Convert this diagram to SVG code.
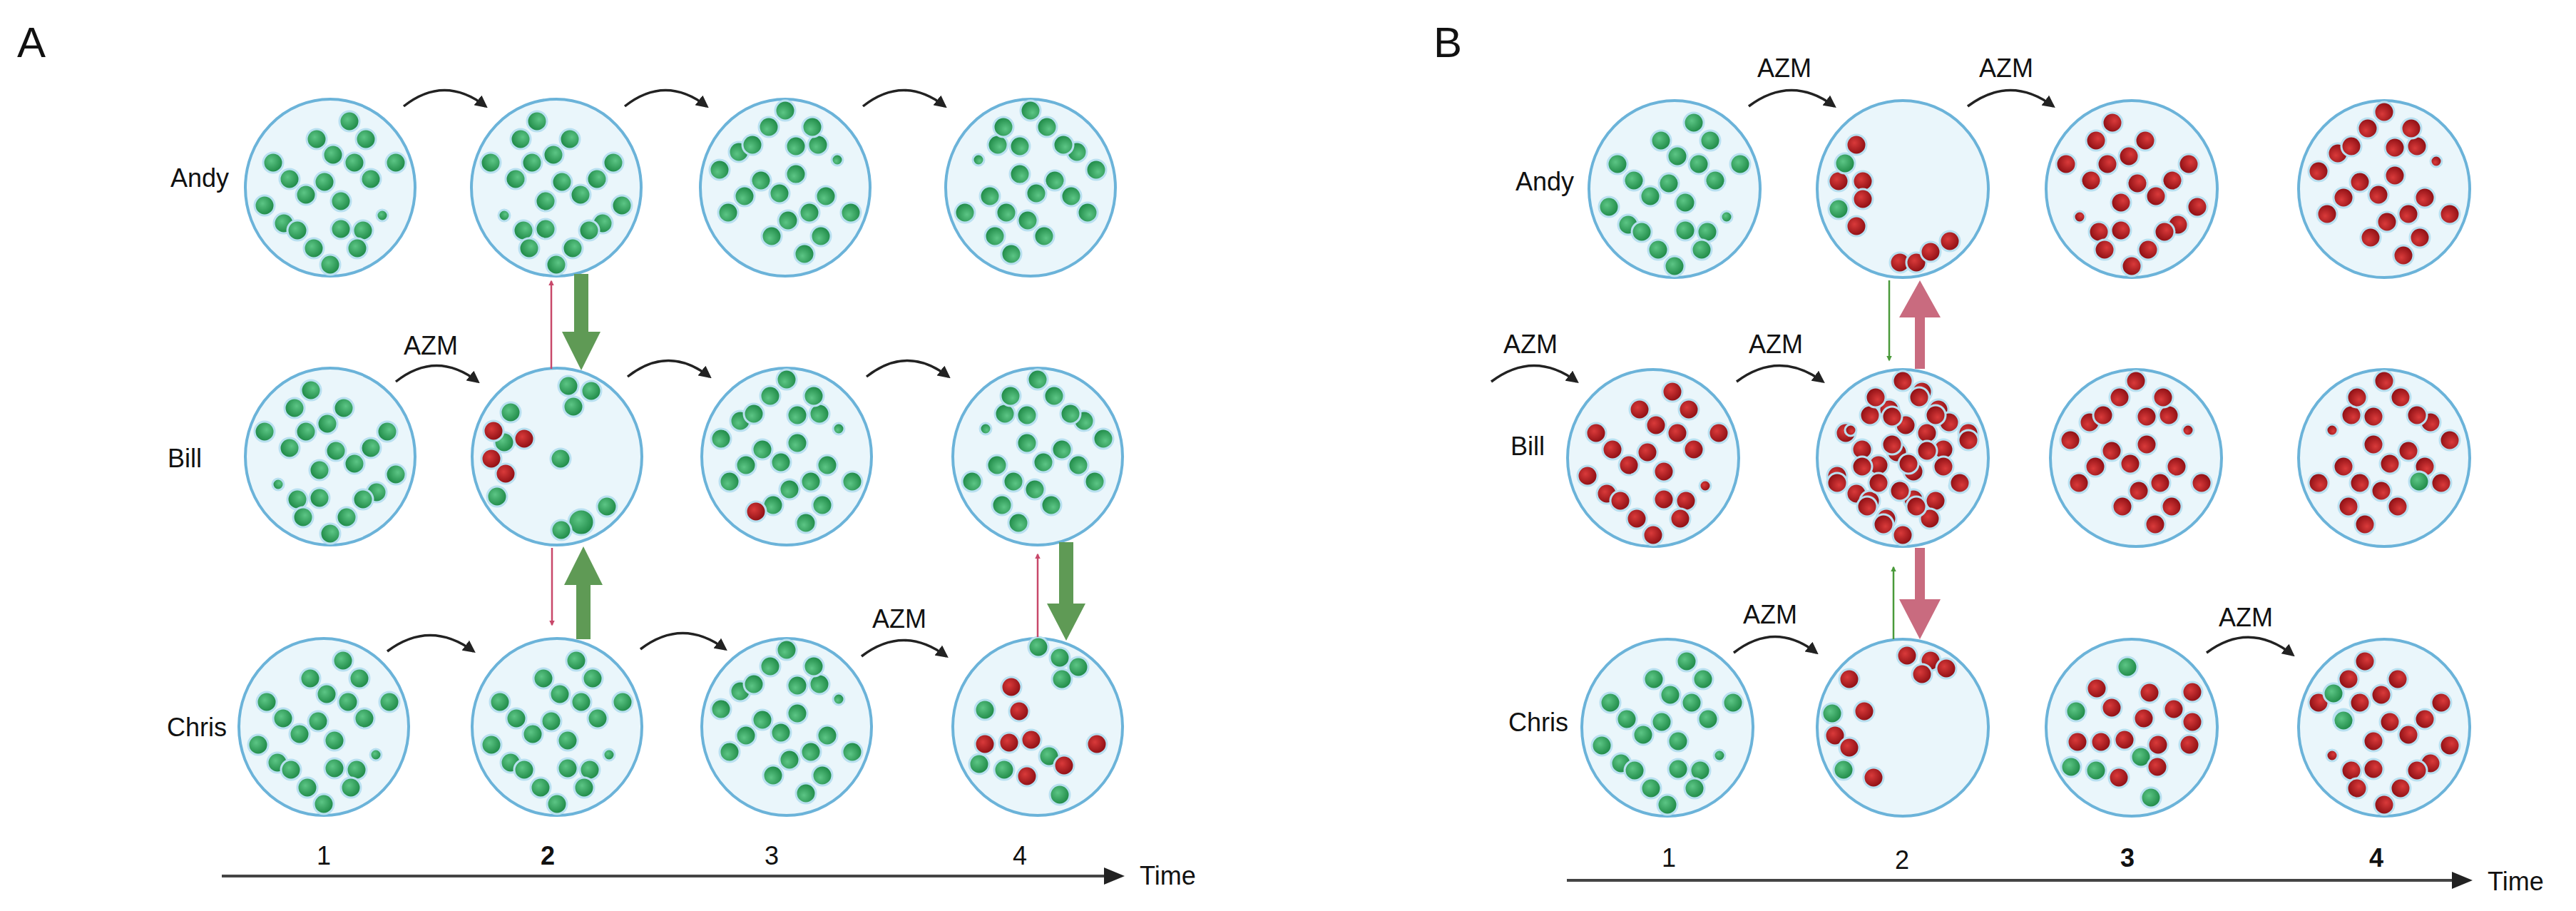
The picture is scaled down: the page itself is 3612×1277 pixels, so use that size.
<svg xmlns="http://www.w3.org/2000/svg" xmlns:xlink="http://www.w3.org/1999/xlink" width="3612" height="1277" viewBox="0 0 3612 1277">
<style>
.dish{fill:#eaf6fb;stroke:#6bb3d9;stroke-width:4}
.t{font-family:"Liberation Sans",Arial,sans-serif;font-size:36px;fill:#111}
.big{font-size:60px}
.cv{fill:none;stroke:#222;stroke-width:3.5;marker-end:url(#ah)}
.d circle{stroke:#b9e0f0;stroke-width:3}
.g{fill:url(#gg)}
.r{fill:url(#rg)}
</style>
<defs>
<radialGradient id="gg" cx="0.4" cy="0.4" r="0.6"><stop offset="0" stop-color="#5cc585"/><stop offset="1" stop-color="#1f8a47"/></radialGradient>
<radialGradient id="rg" cx="0.4" cy="0.4" r="0.6"><stop offset="0" stop-color="#d93a3a"/><stop offset="1" stop-color="#8e0f14"/></radialGradient>
<marker id="ah" viewBox="0 0 10 10" refX="8" refY="5" markerWidth="5" markerHeight="5" orient="auto"><path d="M0,0 L10,5 L0,10 z" fill="#222"/></marker>
<marker id="tr" viewBox="0 0 10 10" refX="8" refY="5" markerWidth="3" markerHeight="3" orient="auto"><path d="M0,0 L10,5 L0,10 z" fill="#c8486a"/></marker>
<marker id="tg" viewBox="0 0 10 10" refX="8" refY="5" markerWidth="3" markerHeight="3" orient="auto"><path d="M0,0 L10,5 L0,10 z" fill="#4a9a3a"/></marker>
<g id="p" class="d">
<circle cx="27" cy="-93" r="14"/><circle cx="-19" cy="-68" r="14"/><circle cx="50" cy="-68" r="14"/><circle cx="-80" cy="-35" r="14"/><circle cx="4" cy="-46" r="14"/><circle cx="34" cy="-35" r="14"/><circle cx="92" cy="-35" r="14"/><circle cx="-57" cy="-12" r="14"/><circle cx="-8" cy="-8" r="14"/><circle cx="57" cy="-12" r="14"/><circle cx="-34" cy="10" r="14"/><circle cx="15" cy="19" r="14"/><circle cx="-92" cy="25" r="14"/><circle cx="73" cy="39" r="8"/><circle cx="-65" cy="50" r="14"/><circle cx="-46" cy="60" r="14"/><circle cx="15" cy="58" r="14"/><circle cx="46" cy="60" r="14"/><circle cx="-23" cy="85" r="14"/><circle cx="38" cy="85" r="14"/><circle cx="0" cy="108" r="14"/>
</g>
</defs>
<rect width="3612" height="1277" fill="#fff"/>
<text class="t big" x="24" y="80">A</text>
<text class="t big" x="2010" y="80">B</text>
<g id="labels">
<text class="t" x="321" y="262" text-anchor="end">Andy</text>
<text class="t" x="283" y="655" text-anchor="end">Bill</text>
<text class="t" x="318" y="1032" text-anchor="end">Chris</text>
<text class="t" x="2207" y="267" text-anchor="end">Andy</text>
<text class="t" x="2166" y="638" text-anchor="end">Bill</text>
<text class="t" x="2199" y="1025" text-anchor="end">Chris</text>
<text class="t" x="566" y="497">AZM</text>
<text class="t" x="1223" y="880">AZM</text>
<text class="t" x="2464" y="108">AZM</text>
<text class="t" x="2775" y="108">AZM</text>
<text class="t" x="2108" y="495">AZM</text>
<text class="t" x="2452" y="495">AZM</text>
<text class="t" x="2444" y="874">AZM</text>
<text class="t" x="3111" y="878">AZM</text>
</g>
<g id="A-andy1"><ellipse class="dish" cx="463" cy="263" rx="119" ry="124"/><use href="#p" x="463" y="263" class="g"/></g>
<g id="A-andy2"><ellipse class="dish" cx="780" cy="263" rx="119" ry="124"/><use href="#p" transform="translate(780,263) scale(-1,1)" class="g"/></g>
<g id="A-andy3"><ellipse class="dish" cx="1101" cy="263" rx="119" ry="124"/><use href="#p" transform="translate(1101,263) scale(1,-1)" class="g"/></g>
<g id="A-andy4"><ellipse class="dish" cx="1445" cy="263" rx="119" ry="124"/><use href="#p" transform="translate(1445,263) scale(-1,-1)" class="g"/></g>
<g id="A-bill1"><ellipse class="dish" cx="463" cy="640" rx="119" ry="124"/><use href="#p" transform="translate(463,640) scale(-1,1)" class="g"/></g>
<g id="A-bill2"><ellipse class="dish" cx="781" cy="640" rx="119" ry="124"/>
<g class="d" transform="translate(781,640)">
<circle class="g" cx="16" cy="-99" r="14"/><circle class="g" cx="48" cy="-92" r="14"/><circle class="g" cx="23" cy="-70" r="14"/><circle class="g" cx="-65" cy="-62" r="14"/><circle class="g" cx="-74" cy="-20" r="14"/><circle class="g" cx="5" cy="3" r="14"/><circle class="g" cx="-84" cy="56" r="14"/><circle class="g" cx="70" cy="70" r="14"/><circle class="g" cx="34" cy="92" r="18"/><circle class="g" cx="6" cy="103" r="14"/>
<circle class="r" cx="-89" cy="-36" r="14"/><circle class="r" cx="-46" cy="-25" r="14"/><circle class="r" cx="-92" cy="3" r="14"/><circle class="r" cx="-72" cy="24" r="14"/>
</g></g>
<g id="A-bill3"><ellipse class="dish" cx="1103" cy="640" rx="119" ry="124"/><use href="#p" transform="translate(1103,640) scale(1,-1)" class="g"/><circle class="r" cx="1060" cy="717" r="14" stroke="#b9e0f0" stroke-width="3"/></g>
<g id="A-bill4"><ellipse class="dish" cx="1455" cy="640" rx="119" ry="124"/><use href="#p" transform="translate(1455,640) scale(-1,-1)" class="g"/></g>
<g id="A-chris1"><ellipse class="dish" cx="454" cy="1019" rx="119" ry="124"/><use href="#p" x="454" y="1019" class="g"/></g>
<g id="A-chris2"><ellipse class="dish" cx="781" cy="1019" rx="119" ry="124"/><use href="#p" x="781" y="1019" class="g"/></g>
<g id="A-chris3"><ellipse class="dish" cx="1103" cy="1019" rx="119" ry="124"/><use href="#p" transform="translate(1103,1019) scale(1,-1)" class="g"/></g>
<g id="A-chris4"><ellipse class="dish" cx="1455" cy="1019" rx="119" ry="124"/>
<g class="d" transform="translate(1455,1019)">
<circle class="g" cx="1" cy="-112" r="14"/><circle class="g" cx="31" cy="-97" r="14"/><circle class="g" cx="57" cy="-84" r="14"/><circle class="g" cx="34" cy="-67" r="14"/><circle class="g" cx="-74" cy="-24" r="14"/><circle class="g" cx="16" cy="41" r="14"/><circle class="g" cx="-82" cy="52" r="14"/><circle class="g" cx="-47" cy="60" r="14"/><circle class="g" cx="31" cy="95" r="14"/>
<circle class="r" cx="-37" cy="-56" r="14"/><circle class="r" cx="-26" cy="-22" r="14"/><circle class="r" cx="-74" cy="24" r="14"/><circle class="r" cx="-40" cy="22" r="14"/><circle class="r" cx="-9" cy="18" r="14"/><circle class="r" cx="83" cy="24" r="14"/><circle class="r" cx="37" cy="54" r="14"/><circle class="r" cx="-15" cy="69" r="14"/>
</g></g>
<g id="B-andy1"><ellipse class="dish" cx="2348" cy="265" rx="120" ry="124"/><use href="#p" x="2348" y="265" class="g"/></g>
<g id="B-andy2"><ellipse class="dish" cx="2668" cy="265" rx="120" ry="124"/>
<g class="d" transform="translate(2668,265)">
<circle class="r" cx="-65" cy="-62" r="14"/><circle class="r" cx="-90" cy="-11" r="14"/><circle class="r" cx="-56" cy="-11" r="14"/><circle class="r" cx="-56" cy="14" r="14"/><circle class="r" cx="-65" cy="52" r="14"/><circle class="r" cx="-4" cy="103" r="14"/><circle class="r" cx="19" cy="103" r="14"/><circle class="r" cx="39" cy="88" r="14"/><circle class="r" cx="66" cy="73" r="14"/>
<circle class="g" cx="-81" cy="-36" r="14"/><circle class="g" cx="-90" cy="28" r="14"/>
</g></g>
<g id="B-andy3"><ellipse class="dish" cx="2989" cy="265" rx="120" ry="124"/><use href="#p" transform="translate(2989,265) scale(-1,1)" class="r"/></g>
<g id="B-andy4"><ellipse class="dish" cx="3343" cy="265" rx="120" ry="124"/><use href="#p" transform="translate(3343,265) scale(1,-1)" class="r"/></g>
<g id="B-bill1"><ellipse class="dish" cx="2318" cy="642" rx="120" ry="124"/><use href="#p" x="2318" y="642" class="r"/></g>
<g id="B-bill2"><ellipse class="dish" cx="2668" cy="642" rx="120" ry="124"/><use href="#p" x="2668" y="642" class="r"/><use href="#p" transform="translate(2668,642) scale(-1,-1)" class="r"/></g>
<g id="B-bill3"><ellipse class="dish" cx="2995" cy="642" rx="120" ry="124"/><use href="#p" transform="translate(2995,642) scale(1,-1)" class="r"/></g>
<g id="B-bill4"><ellipse class="dish" cx="3343" cy="642" rx="120" ry="124"/><use href="#p" transform="translate(3343,642) scale(-1,-1)" class="r"/><circle class="g" cx="3392" cy="675" r="14" stroke="#b9e0f0" stroke-width="3"/></g>
<g id="B-chris1"><ellipse class="dish" cx="2338" cy="1020" rx="120" ry="124"/><use href="#p" x="2338" y="1020" class="g"/></g>
<g id="B-chris2"><ellipse class="dish" cx="2668" cy="1020" rx="120" ry="124"/>
<g class="d" transform="translate(2668,1020)">
<circle class="r" cx="6" cy="-101" r="14"/><circle class="r" cx="39" cy="-94" r="14"/><circle class="r" cx="27" cy="-75" r="14"/><circle class="r" cx="61" cy="-83" r="14"/><circle class="r" cx="-75" cy="-68" r="14"/><circle class="r" cx="-54" cy="-23" r="14"/><circle class="r" cx="-95" cy="11" r="14"/><circle class="r" cx="-75" cy="28" r="14"/><circle class="r" cx="-41" cy="70" r="14"/>
<circle class="g" cx="-99" cy="-20" r="14"/><circle class="g" cx="-83" cy="59" r="14"/>
</g></g>
<g id="B-chris3"><ellipse class="dish" cx="2989" cy="1020" rx="120" ry="124"/>
<g class="d" transform="translate(2989,1020)">
<circle class="g" cx="-6" cy="-85" r="14"/><circle class="g" cx="-78" cy="-23" r="14"/><circle class="g" cx="13" cy="41" r="14"/><circle class="g" cx="-85" cy="55" r="14"/><circle class="g" cx="-50" cy="60" r="14"/><circle class="g" cx="27" cy="98" r="14"/>
<circle class="r" cx="-49" cy="-55" r="14"/><circle class="r" cx="25" cy="-49" r="14"/><circle class="r" cx="85" cy="-50" r="14"/><circle class="r" cx="-28" cy="-28" r="14"/><circle class="r" cx="59" cy="-26" r="14"/><circle class="r" cx="85" cy="-8" r="14"/><circle class="r" cx="17" cy="-13" r="14"/><circle class="r" cx="-76" cy="20" r="14"/><circle class="r" cx="-43" cy="20" r="14"/><circle class="r" cx="-10" cy="17" r="14"/><circle class="r" cx="37" cy="24" r="14"/><circle class="r" cx="81" cy="24" r="14"/><circle class="r" cx="36" cy="55" r="14"/><circle class="r" cx="-18" cy="70" r="14"/>
</g></g>
<g id="B-chris4"><ellipse class="dish" cx="3343" cy="1020" rx="120" ry="124"/><use href="#p" transform="translate(3343,1020) scale(-1,1)" class="r"/><circle class="g" cx="3272" cy="972" r="14" stroke="#b9e0f0" stroke-width="3"/><circle class="g" cx="3286" cy="1010" r="14" stroke="#b9e0f0" stroke-width="3"/></g>
<g id="connectors">
<path class="cv" d="M566,149 Q623,104 681,149"/>
<path class="cv" d="M876,149 Q933,104 991,149"/>
<path class="cv" d="M1210,149 Q1267,104 1325,149"/>
<path class="cv" d="M555,535 Q612,490 670,535"/>
<path class="cv" d="M880,528 Q937,483 995,528"/>
<path class="cv" d="M1215,528 Q1272,483 1330,528"/>
<path class="cv" d="M543,913 Q603,868 664,913"/>
<path class="cv" d="M898,910 Q957,865 1017,910"/>
<path class="cv" d="M1208,920 Q1267,875 1327,920"/>
<path class="cv" d="M2452,149 Q2512,104 2572,149"/>
<path class="cv" d="M2759,149 Q2819,104 2879,149"/>
<path class="cv" d="M2091,535 Q2151,490 2211,535"/>
<path class="cv" d="M2435,535 Q2495,490 2556,535"/>
<path class="cv" d="M2431,915 Q2489,870 2547,915"/>
<path class="cv" d="M3094,915 Q3154,870 3215,918"/>
<path d="M805,384 V465 H788 L815,519 L842,465 H825 V384 Z" fill="#5f9a55"/>
<path d="M808,896 V820 H791 L818,766 L845,820 H828 V896 Z" fill="#5f9a55"/>
<path d="M1485,760 V846 H1468 L1495,898 L1522,846 H1505 V760 Z" fill="#5f9a55"/>
<line x1="773" y1="517" x2="773" y2="394" stroke="#c8486a" stroke-width="2.5" marker-end="url(#tr)"/>
<line x1="774" y1="768" x2="774" y2="876" stroke="#c8486a" stroke-width="2.5" marker-end="url(#tr)"/>
<line x1="1455" y1="893" x2="1455" y2="777" stroke="#c8486a" stroke-width="2.5" marker-end="url(#tr)"/>
<path d="M2685,517 V445 H2663 L2692,393 L2721,445 H2699 V517 Z" fill="#c96b7f"/>
<path d="M2685,768 V840 H2663 L2692,896 L2721,840 H2699 V768 Z" fill="#c96b7f"/>
<line x1="2649" y1="393" x2="2649" y2="505" stroke="#4a9a3a" stroke-width="2.5" marker-end="url(#tg)"/>
<line x1="2655" y1="896" x2="2655" y2="795" stroke="#4a9a3a" stroke-width="2.5" marker-end="url(#tg)"/>
<line x1="311" y1="1228" x2="1550" y2="1228" stroke="#444" stroke-width="4"/>
<path d="M1548,1216 L1577,1228 L1548,1240 Z" fill="#222"/>
<line x1="2197" y1="1234" x2="3440" y2="1234" stroke="#444" stroke-width="4"/>
<path d="M3438,1222 L3467,1234 L3438,1246 Z" fill="#222"/>
</g>
<g id="axis-labels">
<text class="t" x="454" y="1212" text-anchor="middle">1</text>
<text class="t" x="768" y="1212" text-anchor="middle" font-weight="bold">2</text>
<text class="t" x="1082" y="1212" text-anchor="middle">3</text>
<text class="t" x="1430" y="1212" text-anchor="middle">4</text>
<text class="t" x="1598" y="1240">Time</text>
<text class="t" x="2340" y="1215" text-anchor="middle">1</text>
<text class="t" x="2667" y="1218" text-anchor="middle">2</text>
<text class="t" x="2983" y="1215" text-anchor="middle" font-weight="bold">3</text>
<text class="t" x="3332" y="1215" text-anchor="middle" font-weight="bold">4</text>
<text class="t" x="3488" y="1248">Time</text>
</g>
</svg>
